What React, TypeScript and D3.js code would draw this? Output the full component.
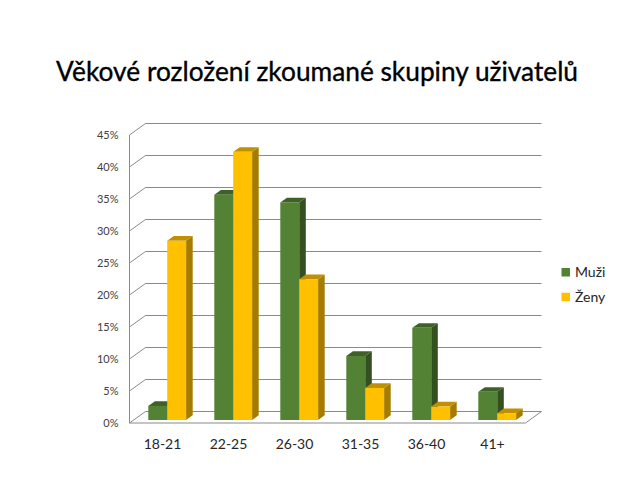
import React from "react";
import * as d3 from "d3";

const title = "Věkové rozložení zkoumané skupiny uživatelů";
const categories = ["18-21", "22-25", "26-30", "31-35", "36-40", "41+"];
const muzi = [2.2, 35.2, 34, 10, 14.4, 4.4];
const zeny = [28, 41.9, 22, 5, 2.1, 1.05];
const ticks = [0, 5, 10, 15, 20, 25, 30, 35, 40, 45];
const seriesNames = ["Muži", "Ženy"];
const colors = [
  { front: "#548235", side: "#344f20", top: "#3f6128" },
  { front: "#ffc000", side: "#a67c00", top: "#bf9000" },
];

const font = "Lato, 'Noto Sans', sans-serif";

export default function App() {
  const y = d3.scaleLinear().domain([0, 45]).range([423, 135]);
  const x = d3.scaleBand().domain(categories).range([129.5, 525.5]);
  const wallD = { dx: 16, dy: 11.5 };
  const barD = { dx: 6.6, dy: 4.7 };
  const barBase = 420;
  const barW = 18.9;
  const barOffset = 18.9;
  const h = (v: number) => y(0) - y(v);
  const right = 525.5;

  const series = [muzi, zeny];
  return (
    <svg width={638} height={479} style={{ position: "absolute", left: 0, top: 0, background: "#fff" }}>
      <text x={56} y={80.5} fontFamily={font} fontSize={27} fill="#000" stroke="#000" strokeWidth={0.35}
        textLength={522} lengthAdjust="spacingAndGlyphs">{title}</text>

      {/* walls */}
      <g fill="none" stroke="#8a8a8a" strokeWidth={1}>
        <line x1={x.range()[0]} x2={x.range()[0]} y1={y(0)} y2={y(45)} />
        <line x1={x.range()[0]} x2={right} y1={y(0)} y2={y(0)} />
        <line x1={right} x2={right + wallD.dx} y1={y(0)} y2={y(0) - wallD.dy} />
        {ticks.map((t) => (
          <path key={t}
            d={`M${x.range()[0]},${y(t)}L${x.range()[0] + wallD.dx},${y(t) - wallD.dy}H${right + wallD.dx}`} />
        ))}
      </g>

      {ticks.map((t) => (
        <text key={t} x={118.5} y={y(t) + 4.3} textAnchor="end" fontFamily={font} fontSize={11} fill="#404040">{t}%</text>
      ))}

      {categories.map((c, i) => {
        const x0 = (x(c) as number) + 18.8;
        return (
          <g key={c}>
            {series.map((vals, s) => {
              const v = vals[i];
              const bx = x0 + s * barOffset;
              const top = barBase - h(v);
              const col = colors[s];
              return (
                <g key={s}>
                  <path fill={col.side}
                    d={`M${bx + barW},${top}l${barD.dx},${-barD.dy}V${barBase - barD.dy}l${-barD.dx},${barD.dy}Z`} />
                  <path fill={col.top}
                    d={`M${bx},${top}l${barD.dx},${-barD.dy}h${barW}l${-barD.dx},${barD.dy}Z`} />
                  <rect x={bx} y={top} width={barW} height={h(v)} fill={col.front} />
                </g>
              );
            })}
            <text x={(x(c) as number) + 33} y={448.5} textAnchor="middle" fontFamily={font} fontSize={14} fill="#262626">{c}</text>
          </g>
        );
      })}

      {seriesNames.map((n, i) => (
        <g key={n}>
          <rect x={561.5} y={268 + i * 24.7} width={8.5} height={8.5} fill={colors[i].front} />
          <text x={575} y={276.8 + i * 24.7} fontFamily={font} fontSize={14} fill="#262626">{n}</text>
        </g>
      ))}
    </svg>
  );
}
